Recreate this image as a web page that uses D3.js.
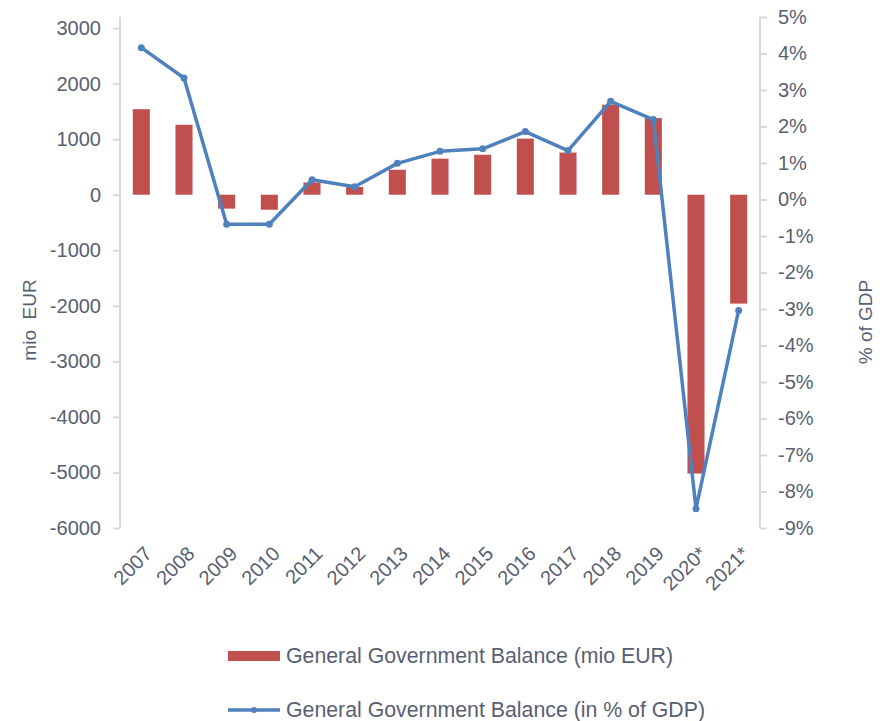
<!DOCTYPE html>
<html>
<head>
<meta charset="utf-8">
<script src="https://cdn.jsdelivr.net/npm/d3@7"></script>
<style>
  body { margin: 0; background: #fff; }
  svg text { font-family: "Liberation Sans", Arial, sans-serif; fill: #595f72; }
</style>
</head>
<body>
<div id="chart"></div>
<script>
var years = ['2007','2008','2009','2010','2011','2012','2013','2014','2015','2016','2017','2018','2019','2020*','2021*'];
var balanceEur = [1540, 1260, -250, -270, 220, 140, 450, 650, 720, 1010, 760, 1620, 1380, -5020, -1960];
var balancePct = [4.16, 3.33, -0.68, -0.68, 0.54, 0.35, 0.99, 1.32, 1.39, 1.86, 1.34, 2.69, 2.19, -8.47, -3.04];
var leftTicks = [3000, 2000, 1000, 0, -1000, -2000, -3000, -4000, -5000, -6000];
var rightTicks = [5, 4, 3, 2, 1, 0, -1, -2, -3, -4, -5, -6, -7, -8, -9];

var width = 883, height = 721;
var plot = {left: 120, right: 760, top: 17, bottom: 528};
var barColor = '#c0504d', lineColor = '#4f81bd', axisColor = '#d9d9d9';

var svg = d3.select('#chart').append('svg')
    .attr('width', width)
    .attr('height', height);

var x = d3.scaleBand()
    .domain(years)
    .range([plot.left, plot.right]);

var yL = d3.scaleLinear()
    .domain([-6000, 3200])
    .range([plot.bottom, plot.top]);

var yR = d3.scaleLinear()
    .domain([-9, 5])
    .range([plot.bottom, plot.top]);

// bars
var barW = x.bandwidth() * 0.4;
svg.selectAll('.bar')
    .data(balanceEur)
  .enter().append('rect')
    .attr('class', 'bar')
    .attr('x', function(d, i) { return x(years[i]) + (x.bandwidth() - barW) / 2; })
    .attr('y', function(d) { return yL(Math.max(0, d)); })
    .attr('width', barW)
    .attr('height', function(d) { return Math.abs(yL(d) - yL(0)); })
    .attr('fill', barColor);

// left axis
var gL = svg.append('g')
    .attr('transform', 'translate(' + plot.left + ',0)')
    .call(d3.axisLeft(yL).tickValues(leftTicks).tickSize(7).tickSizeOuter(0).tickPadding(12)
      .tickFormat(function(d) { return String(d); }));
gL.select('.domain').attr('stroke', axisColor).attr('stroke-width', 2)
    .attr('d', 'M0,' + plot.top + 'V' + plot.bottom);
gL.selectAll('.tick line').attr('stroke', axisColor).attr('stroke-width', 2);
gL.selectAll('.tick text').style('font-size', '20px').style('fill', '#595f72');

// right axis
var gR = svg.append('g')
    .attr('transform', 'translate(' + plot.right + ',0)')
    .call(d3.axisRight(yR).tickValues(rightTicks).tickSize(7).tickSizeOuter(0).tickPadding(11)
      .tickFormat(function(d) { return String(d) + '%'; }));
gR.select('.domain').attr('stroke', axisColor).attr('stroke-width', 2)
    .attr('d', 'M0,' + plot.top + 'V' + plot.bottom);
gR.selectAll('.tick line').attr('stroke', axisColor).attr('stroke-width', 2);
gR.selectAll('.tick text').style('font-size', '20px').style('fill', '#595f72');

// x labels
svg.selectAll('.xlab')
    .data(years)
  .enter().append('text')
    .attr('class', 'xlab')
    .attr('transform', function(d) {
      return 'translate(' + (x(d) + x.bandwidth() / 2 + 2) + ',' + (plot.bottom + 17) + ') rotate(-45)';
    })
    .attr('text-anchor', 'end')
    .attr('dy', '0.7em')
    .style('font-size', '20px')
    .text(function(d) { return d; });

// line
var line = d3.line()
    .x(function(d, i) { return x(years[i]) + x.bandwidth() / 2; })
    .y(function(d) { return yR(d); });

svg.append('path')
    .datum(balancePct)
    .attr('d', line)
    .attr('fill', 'none')
    .attr('stroke', lineColor)
    .attr('stroke-width', 3.5)
    .attr('stroke-linejoin', 'round');

svg.selectAll('.dot')
    .data(balancePct)
  .enter().append('circle')
    .attr('cx', function(d, i) { return x(years[i]) + x.bandwidth() / 2; })
    .attr('cy', function(d) { return yR(d); })
    .attr('r', 3.5)
    .attr('fill', lineColor);

// axis titles
svg.append('text')
    .attr('transform', 'translate(36,320) rotate(-90)')
    .attr('text-anchor', 'middle')
    .style('font-size', '19px')
    .style('white-space', 'pre')
    .text('mio  EUR');

svg.append('text')
    .attr('transform', 'translate(872,322) rotate(-90)')
    .attr('text-anchor', 'middle')
    .style('font-size', '19px')
    .text('% of GDP');

// legend
var legend = svg.append('g');
legend.append('rect')
    .attr('x', 228).attr('y', 651)
    .attr('width', 52).attr('height', 10)
    .attr('fill', barColor);
legend.append('text')
    .attr('x', 286).attr('y', 656)
    .attr('dy', '0.35em')
    .style('font-size', '21.3px')
    .text('General Government Balance (mio EUR)');

legend.append('line')
    .attr('x1', 228).attr('x2', 280)
    .attr('y1', 710).attr('y2', 710)
    .attr('stroke', lineColor).attr('stroke-width', 3.5);
legend.append('circle')
    .attr('cx', 254).attr('cy', 710).attr('r', 3)
    .attr('fill', lineColor);
legend.append('text')
    .attr('x', 286).attr('y', 710)
    .attr('dy', '0.35em')
    .style('font-size', '21.3px')
    .text('General Government Balance (in % of GDP)');
</script>
</body>
</html>
